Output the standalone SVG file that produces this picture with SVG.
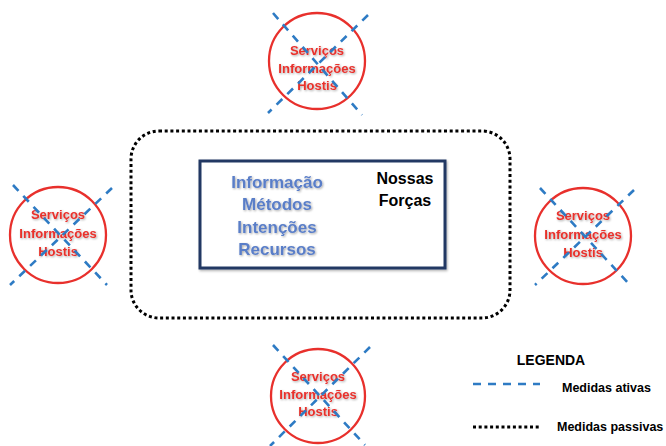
<svg xmlns="http://www.w3.org/2000/svg" width="666" height="446" viewBox="0 0 666 446">
  <defs>
    <filter id="soft" x="-10%" y="-20%" width="130%" height="150%">
      <feDropShadow dx="1" dy="1" stdDeviation="0.8" flood-color="#000" flood-opacity="0.35"/>
    </filter>
    <filter id="boxShadow" x="-5%" y="-10%" width="110%" height="120%">
      <feDropShadow dx="1" dy="1.5" stdDeviation="1" flood-color="#000" flood-opacity="0.3"/>
    </filter>
  </defs>
  <style>
    .hostile circle { fill: #ffffff; stroke: #e8302c; stroke-width: 2.3; }
    .hostile text { font-family: "Liberation Sans", Arial, sans-serif; font-weight: bold; font-size: 13px; fill: #e8302c; text-anchor: middle; filter: url(#soft); }
    .active { stroke: #2e7bc4; stroke-width: 2.6; stroke-dasharray: 8 7; fill: none; }
    .passive { stroke: #000; stroke-width: 3; stroke-dasharray: 3 2.7; fill: none; }
    .core { font-family: "Liberation Sans", Arial, sans-serif; font-weight: bold; font-size: 16px; text-anchor: middle; }
    .blue { fill: #5a7ec8; font-size: 17px; filter: url(#soft); }
    .black { fill: #000; }
    .legend { font-family: "Liberation Sans", Arial, sans-serif; font-weight: bold; fill: #000; }
  </style>

  <!-- passive perimeter -->
  <g id="perimeter">
    <rect class="passive" x="131" y="131" width="379" height="187" rx="28" ry="28"/>
  </g>

  <!-- protected core -->
  <g id="core">
    <rect x="200" y="161" width="245" height="107" fill="#fff" stroke="#203864" stroke-width="3" filter="url(#boxShadow)"/>
    <text class="core blue" x="277" y="188">Informação</text>
    <text class="core blue" x="277" y="210">Métodos</text>
    <text class="core blue" x="277" y="233">Intenções</text>
    <text class="core blue" x="277" y="255">Recursos</text>
    <text class="core black" x="405" y="184">Nossas</text>
    <text class="core black" x="405" y="206">Forças</text>
  </g>

  <!-- hostile services -->
  <g id="hostile-top" class="hostile">
    <circle cx="317" cy="61" r="48"/>
    <text x="317" y="55">Serviços</text>
    <text x="317" y="73">Informações</text>
    <text x="317" y="90">Hostis</text>
  </g>
  <g id="hostile-left" class="hostile">
    <circle cx="58" cy="235" r="48"/>
    <text x="58" y="219">Serviços</text>
    <text x="58" y="238">Informações</text>
    <text x="58" y="256">Hostis</text>
  </g>
  <g id="hostile-right" class="hostile">
    <circle cx="583" cy="236" r="48"/>
    <text x="583" y="220">Serviços</text>
    <text x="583" y="239">Informações</text>
    <text x="583" y="257">Hostis</text>
  </g>
  <g id="hostile-bottom" class="hostile">
    <circle cx="318" cy="396" r="47"/>
    <text x="318" y="381">Serviços</text>
    <text x="318" y="399">Informações</text>
    <text x="318" y="416">Hostis</text>
  </g>

  <!-- active measures crossing each hostile service -->
  <g id="connectors">
    <line class="active" x1="273" y1="13" x2="362" y2="115"/>
    <line class="active" x1="368" y1="15" x2="268" y2="113"/>
    <line class="active" x1="13" y1="185" x2="107" y2="285"/>
    <line class="active" x1="112" y1="188" x2="10" y2="285"/>
    <line class="active" x1="540" y1="188" x2="630" y2="285"/>
    <line class="active" x1="634" y1="190" x2="535" y2="285"/>
    <line class="active" x1="273" y1="345" x2="365" y2="445"/>
    <line class="active" x1="370" y1="347" x2="270" y2="446"/>
  </g>

  <!-- legend -->
  <g id="legend">
    <text class="legend" x="551" y="365" font-size="14" text-anchor="middle">LEGENDA</text>
    <line class="active" x1="473" y1="384" x2="540" y2="384" stroke-dasharray="7 7"/>
    <text class="legend" x="562" y="392" font-size="12.5">Medidas ativas</text>
    <line class="passive" x1="473" y1="427" x2="540" y2="427"/>
    <text class="legend" x="557" y="431" font-size="12.5">Medidas passivas</text>
  </g>
</svg>
